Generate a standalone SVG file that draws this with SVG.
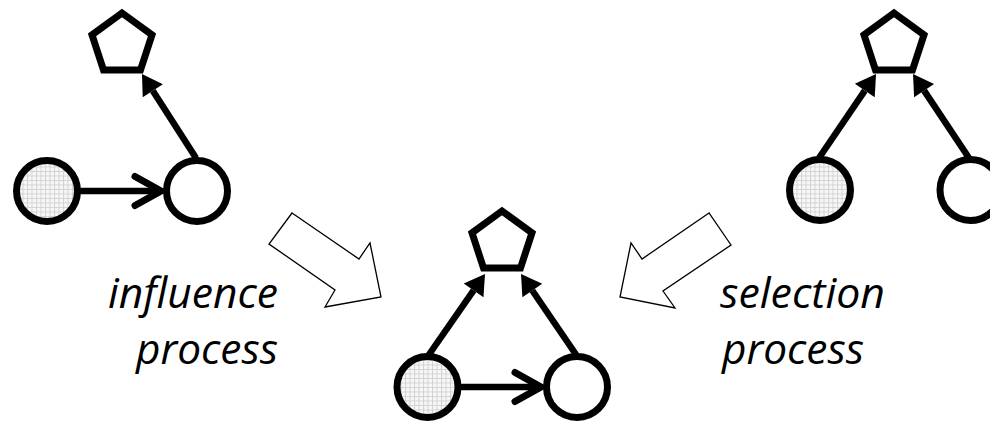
<svg xmlns="http://www.w3.org/2000/svg" width="990" height="423" viewBox="0 0 990 423">
  <style>
    .node { stroke: #000; stroke-width: 7; }
    .white { fill: #fff; }
    .grid { fill: url(#grid); }
    .edge { stroke: #000; stroke-width: 6.5; fill: none; }
    .block { fill: #fff; stroke: #000; stroke-width: 1.3; stroke-linejoin: miter; }
    .label { font-family: "Open Sans", Lato, "DejaVu Sans", sans-serif; font-style: italic; font-size: 42px; fill: #000; }
  </style>
  <defs>
    <pattern id="grid" width="4.5" height="4.5" patternUnits="userSpaceOnUse">
      <rect width="4.5" height="4.5" fill="#f7f7f7"/>
      <path d="M0 0.5 H4.5 M0.5 0 V4.5" stroke="#d2d2d2" stroke-width="1"/>
    </pattern>
    <marker id="open" markerUnits="userSpaceOnUse" markerWidth="40" markerHeight="40" viewBox="-32 -20 40 40" refX="0" refY="0" orient="auto" overflow="visible">
      <path d="M-26 -14.5 L0 0 L-26 14.5" fill="none" stroke="#000" stroke-width="7" stroke-linecap="round" stroke-linejoin="miter"/>
    </marker>
    <marker id="solid" markerUnits="userSpaceOnUse" markerWidth="30" markerHeight="30" viewBox="-5 -15 30 30" refX="0" refY="0" orient="auto" overflow="visible">
      <path d="M0 -12 L20 0 L0 12 Z" fill="#000"/>
    </marker>
  </defs>

  <g id="connectors">
    <!-- left group -->
    <line class="edge" x1="80" y1="191" x2="161" y2="191" marker-end="url(#open)"/>
    <line class="edge" x1="196" y1="158" x2="152.8" y2="90.8" marker-end="url(#solid)"/>
    <!-- middle group -->
    <line class="edge" x1="460" y1="387" x2="541" y2="387" marker-end="url(#open)"/>
    <line class="edge" x1="428" y1="356" x2="473.6" y2="290.4" marker-end="url(#solid)"/>
    <line class="edge" x1="577" y1="356" x2="532.3" y2="290.5" marker-end="url(#solid)"/>
    <!-- right group -->
    <line class="edge" x1="819" y1="158" x2="864.8" y2="90.6" marker-end="url(#solid)"/>
    <line class="edge" x1="969" y1="158" x2="924.1" y2="90.6" marker-end="url(#solid)"/>
    <!-- block arrows -->
    <polygon class="block" points="292,213 359,259 370,243 381,297 325,307 335,290 269,244"/>
    <polygon class="block" points="709,213 642,259 631,243 620,297 675,308 663,291 731,245"/>
  </g>

  <!-- left group -->
  <g id="left-pentagon"><polygon class="node white" points="122,13 152,34.8 140.5,70 103.5,70 92,34.8"/></g>
  <g id="left-gray"><circle class="node grid" cx="47" cy="191" r="30.5"/></g>
  <g id="left-white"><circle class="node white" cx="197" cy="191" r="30.5"/></g>

  <!-- middle group -->
  <g id="mid-pentagon"><polygon class="node white" points="502,211 532,232.8 520.5,268 483.5,268 472,232.8"/></g>
  <g id="mid-gray"><circle class="node grid" cx="427.5" cy="387" r="30.5"/></g>
  <g id="mid-white"><circle class="node white" cx="577" cy="387" r="30.5"/></g>

  <!-- right group -->
  <g id="right-pentagon"><polygon class="node white" points="894,13 924,34.8 912.5,70 875.5,70 864,34.8"/></g>
  <g id="right-gray"><circle class="node grid" cx="820" cy="190" r="30.5"/></g>
  <g id="right-white"><circle class="node white" cx="970.5" cy="190" r="30.5"/></g>

  <g id="label-influence">
    <text class="label" x="278" y="308" text-anchor="end" textLength="170" lengthAdjust="spacingAndGlyphs">influence</text>
    <text class="label" x="278" y="364" text-anchor="end" textLength="142" lengthAdjust="spacingAndGlyphs">process</text>
  </g>
  <g id="label-selection">
    <text class="label" x="720" y="308" textLength="165" lengthAdjust="spacingAndGlyphs">selection</text>
    <text class="label" x="722" y="364" textLength="142" lengthAdjust="spacingAndGlyphs">process</text>
  </g>
</svg>
